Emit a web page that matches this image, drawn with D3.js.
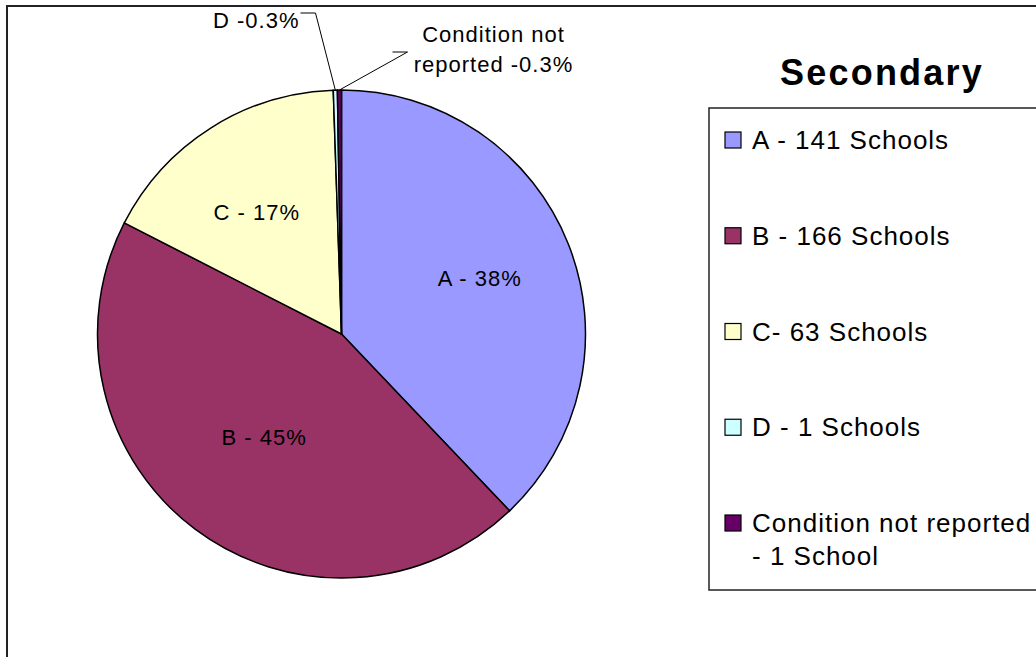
<!DOCTYPE html>
<html>
<head>
<meta charset="utf-8">
<script src="https://cdn.jsdelivr.net/npm/d3@7"></script>
<style>
  html, body { margin: 0; padding: 0; background: #fff; }
  svg { display: block; font-family: "Liberation Sans", Arial, sans-serif; }
</style>
</head>
<body>
<svg id="chart" width="1036" height="657"></svg>
<script>
const categories = ["A", "B", "C", "D", "Condition not reported"];
const schools = [141, 166, 63, 1, 1];
const sliceLabels = ["A - 38%", "B - 45%", "C - 17%", "D -0.3%", "Condition not\nreported -0.3%"];
const legendLabels = ["A - 141 Schools", "B - 166 Schools", "C- 63 Schools", "D - 1 Schools", "Condition not reported\n- 1 School"];
const colors = ["#9999FF", "#993366", "#FFFFCC", "#CCFFFF", "#660066"];
const title = "Secondary";

const svg = d3.select("#chart");

// outer chart frame
svg.append("rect").attr("x", 7).attr("y", 6).attr("width", 1040).attr("height", 670)
  .attr("fill", "none").attr("stroke", "#222").attr("stroke-width", 2);

const cx = 341.5, cy = 334, R = 244;
const data = categories.map((c, i) => ({ cat: c, value: schools[i], i }));
const pie = d3.pie().value(d => d.value).sort(null);
const arcs = pie(data);
const arc = d3.arc().innerRadius(0).outerRadius(R);

const g = svg.append("g").attr("transform", `translate(${cx},${cy})`);
g.selectAll("path.slice").data(arcs).enter().append("path")
  .attr("class", "slice")
  .attr("d", arc)
  .attr("fill", d => colors[d.data.i])
  .attr("stroke", "#000").attr("stroke-width", 1.5).attr("stroke-linejoin", "round");

const labelFont = 22, labelLS = 1;

// inside labels
const labelK = [0.61, 0.53, 0.61];
arcs.slice(0, 3).forEach((d, k) => {
  const la = d3.arc().innerRadius(R * labelK[k]).outerRadius(R * labelK[k]);
  const [x, y] = la.centroid(d);
  g.append("text")
    .attr("x", x - (k === 2 ? 5 : 0)).attr("y", y + (k === 2 ? 4 : 0))
    .attr("text-anchor", "middle").attr("dominant-baseline", "central")
    .attr("font-size", labelFont).attr("letter-spacing", labelLS).attr("fill", "#000")
    .text(sliceLabels[k]);
});

// outside labels with leader lines
function outerPoint(d) {
  const a = (d.startAngle + d.endAngle) / 2;
  return [Math.sin(a) * R, -Math.cos(a) * R];
}
// D
{
  const p = outerPoint(arcs[3]);
  const lx = -26, ly = -321;
  g.append("path").attr("d", `M${p[0]},${p[1]} L${lx},${ly} L${lx - 15},${ly}`)
    .attr("fill", "none").attr("stroke", "#000").attr("stroke-width", 1);
  g.append("text").attr("x", lx - 16).attr("y", ly + 7)
    .attr("text-anchor", "end").attr("dominant-baseline", "central")
    .attr("font-size", labelFont).attr("letter-spacing", labelLS).text(sliceLabels[3]);
}
// Condition not reported
{
  const p = outerPoint(arcs[4]);
  const lx = 66, ly = -282;
  g.append("path").attr("d", `M${p[0]},${p[1]} L${lx},${ly} L${lx - 15},${ly}`)
    .attr("fill", "none").attr("stroke", "#000").attr("stroke-width", 1);
  const lines = sliceLabels[4].split("\n");
  const t = g.append("text").attr("text-anchor", "middle").attr("font-size", labelFont)
    .attr("letter-spacing", labelLS);
  lines.forEach((ln, j) => {
    t.append("tspan").attr("x", 152).attr("y", -292 + j * 30).text(ln);
  });
}

// title
svg.append("text").attr("x", 882).attr("y", 85).attr("text-anchor", "middle")
  .attr("font-size", 36).attr("letter-spacing", 2.2).attr("font-weight", "bold").text(title);

// legend
svg.append("rect").attr("x", 709).attr("y", 108).attr("width", 340).attr("height", 482)
  .attr("fill", "none").attr("stroke", "#222").attr("stroke-width", 1.5);
const legendY = d3.scalePoint().domain(d3.range(categories.length)).range([140, 523]);
categories.forEach((c, i) => {
  const y = legendY(i);
  svg.append("rect").attr("x", 725).attr("y", y - 8).attr("width", 16).attr("height", 16)
    .attr("fill", colors[i]).attr("stroke", "#000").attr("stroke-width", 1.2);
  const t = svg.append("text").attr("font-size", 26).attr("letter-spacing", 1).attr("fill", "#000");
  legendLabels[i].split("\n").forEach((ln, j) => {
    t.append("tspan").attr("x", 752).attr("y", y + j * 33).attr("dy", "0.35em").text(ln);
  });
});
</script>
</body>
</html>
